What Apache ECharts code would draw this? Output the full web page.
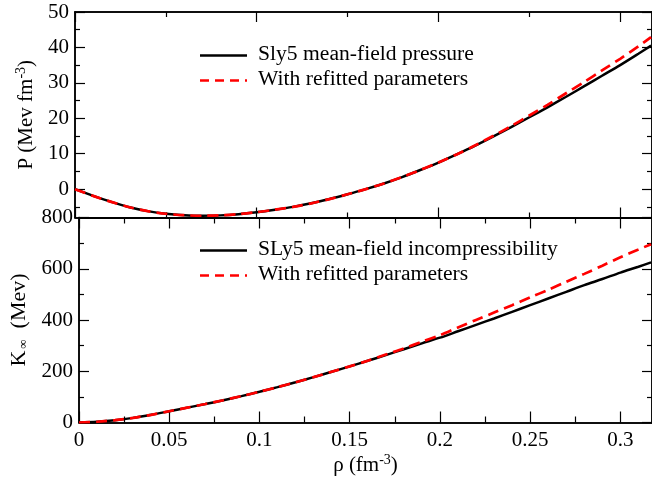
<!DOCTYPE html>
<html><head><meta charset="utf-8">
<script src="https://cdn.jsdelivr.net/npm/echarts@6/dist/echarts.min.js"></script>
<style>html,body{margin:0;padding:0;background:#fff}#c{width:652px;height:478px}</style>
</head><body><div id="c"></div>
<script>
// ---- data ----
const rho    = [0,0.01,0.02,0.03,0.04,0.05,0.06,0.07,0.08,0.09,0.10,0.11,0.12,0.13,0.14,0.15,0.16,0.17,0.18,0.19,0.20,0.21,0.22,0.23,0.24,0.25,0.26,0.27,0.28,0.29,0.30,0.31,0.317];
const pSly5  = [0,-1.9,-3.6,-5.1,-6.2,-6.95,-7.35,-7.5,-7.4,-7.05,-6.5,-5.8,-5.0,-4.0,-2.8,-1.45,0,1.6,3.4,5.4,7.5,9.8,12.2,14.8,17.5,20.3,23.1,26.0,29.0,32.0,35.0,38.2,40.5];
const pRefit = [0,-1.9,-3.6,-5.1,-6.2,-6.95,-7.35,-7.5,-7.4,-7.05,-6.5,-5.8,-5.0,-4.0,-2.8,-1.45,0,1.6,3.4,5.4,7.5,9.8,12.3,15.0,17.8,20.8,23.8,27.0,30.2,33.5,36.8,40.3,42.9];
const kSly5  = [0,3,9,18,30,44,58,72,87,103,120,138,157,177,198,219,241,263,286,309,331,356,381,406,432,458,484,510,536,560,585,608,625];
const kRefit = [0,3,9,18,30,44,58,72,87,103,120,138,157,177,198,219,241,265,289,315,341,371,400,429,458,488,518,549,580,612,645,675,696];

const xTicksBottom      = [0,0.05,0.1,0.15,0.2,0.25,0.3];
const xMinorTicksBottom = [0.025,0.075,0.125,0.175,0.225,0.275];
const xTicksTop         = [0,0.1,0.2,0.3];
const xMinorTicksTop    = [0.05,0.15,0.25];
const pTicks      = [0,10,20,30,40,50];
const pMinorTicks = [-5,5,15,25,35,45];
const kTicks      = [0,200,400,600,800];
const kMinorTicks = [100,300,500,700];
const legendTopText    = ['Sly5 mean-field pressure','With refitted parameters'];
const legendBottomText = ['SLy5 mean-field incompressibility','With refitted parameters'];

// ---- layout / style ----
const FONT = '"Liberation Serif","DejaVu Serif",serif';
const X_MIN = 0, X_MAX = 0.3175;
const P_MIN = -8, P_MAX = 50;
const K_MIN = 0, K_MAX = 800;
const AXC = '#000';

function pairs(xs, ys){ return xs.map((x,i)=>[x, ys[i]]); }
function fmtX(v){ return v===0 ? '0' : String(+v.toFixed(3)); }

function xAx(grid, pos, ticks, len, opts){
  return Object.assign({
    type:'value', gridIndex:grid, position:pos, min:X_MIN, max:X_MAX,
    axisLine:{show:true, onZero:false, lineStyle:{color:AXC, width:1.5}},
    axisTick:{show:true, inside:true, length:len, customValues:ticks, lineStyle:{color:AXC, width:1.2}},
    axisLabel:{show:false},
    splitLine:{show:false}
  }, opts||{});
}
function yAx(grid, pos, min, max, ticks, len, opts){
  return Object.assign({
    type:'value', gridIndex:grid, position:pos, min:min, max:max,
    axisLine:{show:true, onZero:false, lineStyle:{color:AXC, width:1.5}},
    axisTick:{show:true, inside:true, length:len, customValues:ticks, lineStyle:{color:AXC, width:1.2}},
    axisLabel:{show:false},
    splitLine:{show:false}
  }, opts||{});
}

const labelStyle = {color:'#000', fontFamily:FONT, fontSize:21};

const xAxes = [
  xAx(0,'bottom',xTicksTop,10),
  xAx(0,'top',xTicksTop,10),
  xAx(1,'bottom',xTicksBottom,11,{
    axisLabel:Object.assign({show:true, margin:7, customValues:xTicksBottom, formatter:fmtX}, labelStyle),
    name:'{a|ρ (fm}{s|-3}{a|)}', nameLocation:'middle', nameGap:31,
    nameTextStyle:{rich:{a:{fontFamily:FONT,fontSize:21,color:'#000'}, s:{fontFamily:FONT,fontSize:14,color:'#000',verticalAlign:'top',padding:[0,0,10,0]}}}
  }),
  xAx(1,'top',xTicksBottom,11),
  xAx(0,'bottom',xMinorTicksTop,5),
  xAx(0,'top',xMinorTicksTop,5),
  xAx(1,'bottom',xMinorTicksBottom,6),
  xAx(1,'top',xMinorTicksBottom,6)
];

const yAxes = [
  yAx(0,'left',P_MIN,P_MAX,pTicks,10,{
    axisLabel:Object.assign({show:true, margin:6, customValues:pTicks}, labelStyle),
    name:'{a|P (Mev fm}{s|-3}{a|)}', nameLocation:'middle', nameGap:37,
    nameTextStyle:{rich:{a:{fontFamily:FONT,fontSize:21,color:'#000'}, s:{fontFamily:FONT,fontSize:14,color:'#000',verticalAlign:'top',padding:[0,0,10,0]}}}
  }),
  yAx(1,'left',K_MIN,K_MAX,kTicks,10,{
    axisLabel:Object.assign({show:true, margin:6, customValues:kTicks}, labelStyle),
    name:'{a|K}{s|∞}{a|  (Mev)}', nameLocation:'middle', nameGap:49,
    nameTextStyle:{rich:{a:{fontFamily:FONT,fontSize:22,color:'#000'}, s:{fontFamily:FONT,fontSize:13,color:'#000',verticalAlign:'bottom',padding:[6,0,0,2]}}}
  }),
  yAx(0,'right',P_MIN,P_MAX,pTicks,10),
  yAx(1,'right',K_MIN,K_MAX,kTicks,10),
  yAx(0,'left',P_MIN,P_MAX,pMinorTicks,5),
  yAx(0,'right',P_MIN,P_MAX,pMinorTicks,5),
  yAx(1,'left',K_MIN,K_MAX,kMinorTicks,5),
  yAx(1,'right',K_MIN,K_MAX,kMinorTicks,5)
];

function lineSeries(name, xi, yi, data, color, dashed){
  return {
    name:name, type:'line', xAxisIndex:xi, yAxisIndex:yi, data:data,
    showSymbol:false, symbol:'none', smooth:0.3, silent:true, animation:false,
    lineStyle:{color:color, width:dashed?2.7:2.5, type:dashed?[11,6]:'solid'},
    z: dashed?3:2
  };
}

function legendBlock(y0, texts){
  const els = [];
  const rowGap = 25;
  els.push({type:'line', shape:{x1:200,y1:y0+1.5,x2:247,y2:y0+1.5}, style:{stroke:'#000', lineWidth:2.5}});
  els.push({type:'line', shape:{x1:200,y1:y0+rowGap+1.5,x2:247,y2:y0+rowGap+1.5}, style:{stroke:'#ff0000', lineWidth:2.5, lineDash:[9,6]}});
  texts.forEach((t,i)=>{
    els.push({type:'text', x:258, y:y0+i*rowGap, style:{text:t, fill:'#000', fontFamily:FONT, fontSize:21.6, verticalAlign:'middle', align:'left'}});
  });
  return els;
}

const option = {
  animation:false,
  backgroundColor:'#fff',
  grid:[
    {left:75, top:12, width:577, height:205.5},
    {left:75, top:217.5, width:577, height:205}
  ],
  xAxis:xAxes,
  yAxis:yAxes,
  series:[
    lineSeries('Sly5 mean-field pressure',0,0,pairs(rho,pSly5),'#000',false),
    lineSeries('With refitted parameters',0,0,pairs(rho,pRefit),'#ff0000',true),
    lineSeries('SLy5 mean-field incompressibility',2,1,pairs(rho,kSly5),'#000',false),
    lineSeries('With refitted parameters (K)',2,1,pairs(rho,kRefit),'#ff0000',true)
  ],
  graphic:[].concat(legendBlock(54,legendTopText), legendBlock(249,legendBottomText))
};

const chart = echarts.init(document.getElementById('c'), null, {renderer:'canvas'});
chart.setOption(option);
</script>
</body></html>
